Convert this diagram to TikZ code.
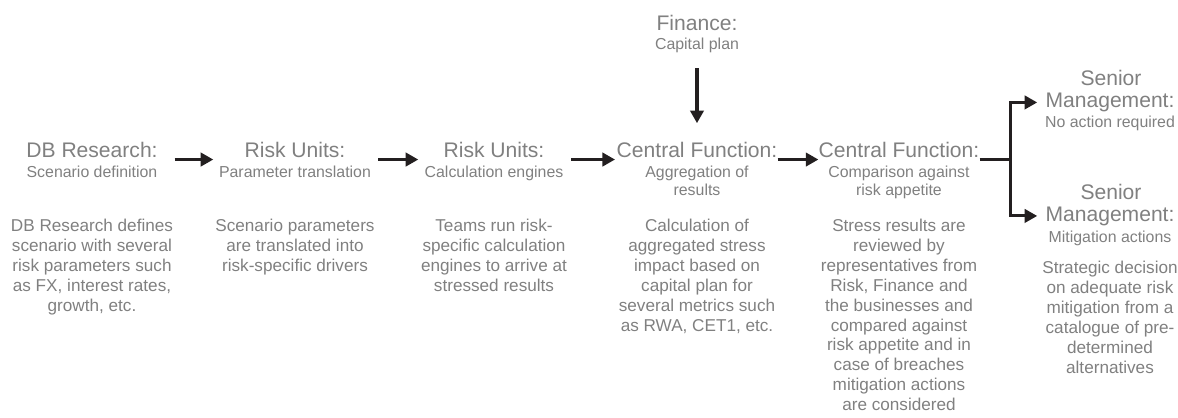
\documentclass[tikz,border=0pt]{standalone}
\usepackage{fontspec}
\setmainfont{Liberation Sans}
\definecolor{stressgrey}{RGB}{128,128,128}
\definecolor{arrowblack}{RGB}{35,31,32}
\usetikzlibrary{arrows.meta}

\begin{document}
\begin{tikzpicture}[x=0.25mm, y=-0.25mm,
    head/.style={font=\fontsize{15}{15.6}\selectfont, text=stressgrey, inner sep=0pt, anchor=base},
    sub/.style={font=\fontsize{11.3}{12.8}\selectfont, text=stressgrey, inner sep=0pt, anchor=north, align=center},
    body/.style={font=\fontsize{12.2}{14.2}\selectfont, text=stressgrey, inner sep=0pt, anchor=north, align=center},
    flow/.style={-{Triangle[length=9pt,width=9.5pt]}, line width=2.2pt, draw=arrowblack}]
    \useasboundingbox (0,0) rectangle (1178,417);

    % DB Research
    \node[head, minimum width=40.5mm] (dbres) at (92,157) {DB Research:};
    \node[sub] (dbressub) at (92,165.5) {Scenario definition};
    \node[body] (dbresbody) at (92,218.5) {DB Research defines\\scenario with several\\risk parameters such\\as FX, interest rates,\\growth, etc.};

    % Risk Units: parameters
    \node[head, minimum width=40mm] (riskpar) at (295,157) {Risk Units:};
    \node[sub] (riskparsub) at (295,165.5) {Parameter translation};
    \node[body] (riskparbody) at (295,218.5) {Scenario parameters\\are translated into\\risk-specific drivers};

    % Risk Units: engines
    \node[head, minimum width=37mm] (riskcalc) at (494,157) {Risk Units:};
    \node[sub] (riskcalcsub) at (494,165.5) {Calculation engines};
    \node[body] (riskcalcbody) at (494,218.5) {Teams run risk-\\specific calculation\\engines to arrive at\\stressed results};

    % Central Function: aggregation
    \node[head, minimum width=40mm] (cfagg) at (697,157) {Central Function:};
    \node[sub] (cfaggsub) at (697,165.5) {Aggregation of\\results};
    \node[body] (cfaggbody) at (697,218.5) {Calculation of\\aggregated stress\\impact based on\\capital plan for\\several metrics such\\as RWA, CET1, etc.};

    % Finance
    \node[head] (finance) at (697,30) {Finance:};
    \node[sub] (financesub) at (697,37.5) {Capital plan};

    % Central Function: comparison
    \node[head, minimum width=40mm] (cfcomp) at (899,157) {Central Function:};
    \node[sub] (cfcompsub) at (899,165.5) {Comparison against\\risk appetite};
    \node[body] (cfcompbody) at (899,218.5) {Stress results are\\reviewed by\\representatives from\\Risk, Finance and\\the businesses and\\compared against\\risk appetite and in\\case of breaches\\mitigation actions\\are considered};

    % Senior Management
    \node[head] (seniortop) at (1111,85) {Senior};
    \node[head] (mgmttop) at (1110,107.5) {Management:};
    \node[sub] (mgmttopsub) at (1110,115.5) {No action required};
    \node[head] (seniorbot) at (1111,199) {Senior};
    \node[head] (mgmtbot) at (1110,221) {Management:};
    \node[sub] (mgmtbotsub) at (1110,230.5) {Mitigation actions};
    \node[body] (mgmtbotbody) at (1110,261) {Strategic decision\\on adequate risk\\mitigation from a\\catalogue of pre-\\determined\\alternatives};

    % Arrows
    \draw[flow, shorten <=1pt, shorten >=1pt] ([yshift=-1.8pt]dbres.base east) -- ([yshift=-1.8pt]riskpar.base west);
    \draw[flow, shorten <=2pt, shorten >=1pt] ([yshift=-1.8pt]riskpar.base east) -- ([yshift=-1.8pt]riskcalc.base west);
    \draw[flow, shorten <=2pt, shorten >=1pt] ([yshift=-1.8pt]riskcalc.base east) -- ([yshift=-1.8pt]cfagg.base west);
    \draw[flow, shorten >=0pt] ([yshift=-1.8pt]cfagg.base east) -- ([yshift=-1.8pt]cfcomp.base west);
    \draw[flow, shorten <=11pt, shorten >=13pt] (financesub.south) -- (cfagg.north);
    \draw[flow, -] ([yshift=-1.8pt]cfcomp.base east) -- ++(31,0) coordinate (fork);
    \draw[flow, shorten >=5.7pt] (fork) |- (mgmttop.west);
    \draw[flow, shorten >=5.7pt] (fork) |- (mgmtbot.west);
\end{tikzpicture}
\end{document}
